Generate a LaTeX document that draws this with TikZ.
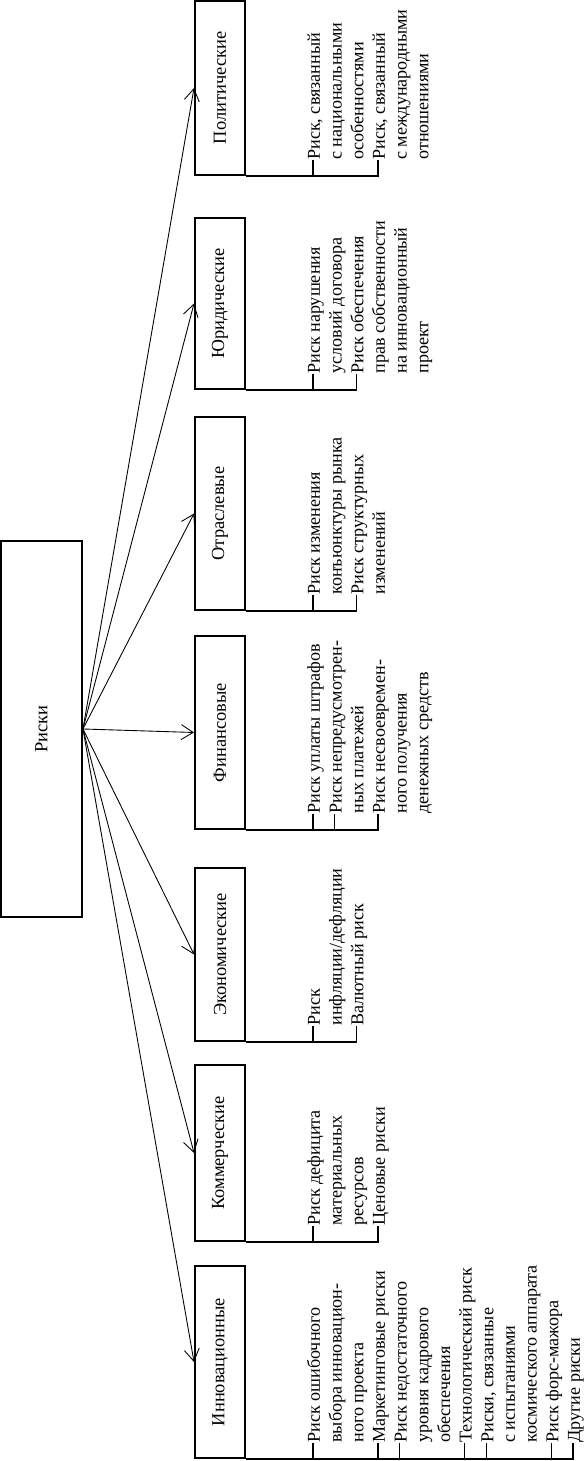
\documentclass[tikz,border=0pt]{standalone}
\usepackage{fontspec}
\setmainfont{Liberation Serif}
\usetikzlibrary{arrows.meta}
\newcommand{\riskrows}[1]{\begin{tabular}[t]{@{}l@{}}#1\end{tabular}}

\begin{document}
\begin{tikzpicture}[x=0.02cm, y=0.02cm,
  box/.style={rectangle, draw, line width=1.1pt, minimum height=1cm, inner sep=2pt,
    font=\fontsize{10.5}{12.6}\selectfont},
  item/.style={anchor=base west, inner sep=0pt,
    font=\fontsize{10.3}{12.33}\selectfont},
  arr/.style={-{Straight Barb[length=2.4mm, width=3mm]}, line width=0.5pt},
  link/.style={line width=0.8pt}]
\begin{scope}[rotate=90, transform shape]
  \useasboundingbox (0,0) rectangle (1461,584);
  \node[box, minimum width=7.52cm, minimum height=1.62cm] (risk) at (732,542.5) {Риски};

  \node[box, minimum width=3.84cm] (inn) at (99,364) {Инновационные};
  \node[box, minimum width=3.52cm] (com) at (308,364) {Коммерческие};
  \node[box, minimum width=3.46cm] (eco) at (506.5,364) {Экономические};
  \node[box, minimum width=3.86cm] (fin) at (728.5,364) {Финансовые};
  \node[box, minimum width=3.86cm] (ind) at (947.5,364) {Отраслевые};
  \node[box, minimum width=3.42cm] (law) at (1157.5,364) {Юридические};
  \node[box, minimum width=3.48cm] (pol) at (1373,364) {Политические};

  \foreach \b in {inn,com,eco,fin,ind,law,pol}
    \draw[arr] (risk.south) -- (\b.north);

  % risks by group
  \node[item] (inn1) at (18,264) {\riskrows{Риск ошибочного\\выбора инновацион-\\ного проекта}};
  \node[item] (inn2) at (18,199) {Маркетинговые риски};
  \node[item] (inn3) at (18,177.3) {\riskrows{Риск недостаточного\\уровня кадрового\\обеспечения}};
  \node[item] (inn4) at (18,112.3) {Технологический риск};
  \node[item] (inn5) at (18,90.7) {\riskrows{Риски, связанные\\с испытаниями\\космического аппарата}};
  \node[item] (inn6) at (18,25.6) {Риск форс-мажора};
  \node[item] (inn7) at (18,4) {Другие риски};

  \node[item] (com1) at (235,264) {\riskrows{Риск дефицита\\материальных\\ресурсов}};
  \node[item] (com2) at (235,199) {Ценовые риски};

  \node[item] (eco1) at (435,264) {\riskrows{Риск\\инфляции/дефляции}};
  \node[item] (eco2) at (435,220.7) {Валютный риск};

  \node[item] (fin1) at (647,264) {Риск уплаты штрафов};
  \node[item] (fin2) at (647,242.3) {\riskrows{Риск непредусмотрен-\\ных платежей}};
  \node[item] (fin3) at (647,199) {\riskrows{Риск несвоевремен-\\ного получения\\денежных средств}};

  \node[item] (ind1) at (866,264) {\riskrows{Риск изменения\\конъюнктуры рынка}};
  \node[item] (ind2) at (866,220.7) {\riskrows{Риск структурных\\изменений}};

  \node[item] (law1) at (1087,264) {\riskrows{Риск нарушения\\условий договора}};
  \node[item] (law2) at (1087,220.7) {\riskrows{Риск обеспечения\\прав собственности\\на инновационный\\проект}};

  \node[item] (pol1) at (1301,264) {\riskrows{Риск, связанный\\с национальными\\особенностями}};
  \node[item] (pol2) at (1301,199) {\riskrows{Риск, связанный\\с международными\\отношениями}};

  % brackets
  \foreach \b/\n in {inn/1,inn/2,inn/3,inn/4,inn/5,inn/6,inn/7,com/1,com/2,eco/1,eco/2,
      fin/1,fin/2,fin/3,ind/1,ind/2,law/1,law/2,pol/1,pol/2}
    \draw[link] (\b.south west) |- ([yshift=4pt]\b\n.base west);
\end{scope}
\end{tikzpicture}
\end{document}
